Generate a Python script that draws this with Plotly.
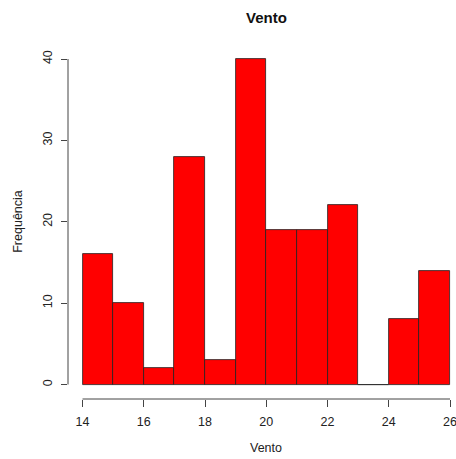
import plotly.graph_objects as go

bin_edges = [14, 15, 16, 17, 18, 19, 20, 21, 22, 23, 24, 25, 26]
counts = [16, 10, 2, 28, 3, 40, 19, 19, 22, 0, 8, 14]
x_ticks = [14, 16, 18, 20, 22, 24, 26]
y_ticks = [0, 10, 20, 30, 40]

centers = [(a + b) / 2 for a, b in zip(bin_edges[:-1], bin_edges[1:])]
widths = [b - a for a, b in zip(bin_edges[:-1], bin_edges[1:])]

fig = go.Figure()
fig.add_trace(go.Bar(
    x=centers, y=counts, width=widths,
    marker=dict(color="#ff0000", line=dict(color="#222222", width=0.8)),
    hoverinfo="x+y",
))

font = dict(family="Liberation Sans, Arial, sans-serif", size=12.5, color="#222222")

fig.update_layout(
    width=456, height=459,
    margin=dict(l=68, r=0, t=46, b=60),
    paper_bgcolor="white", plot_bgcolor="white",
    showlegend=False,
    bargap=0,
    font=font,
    xaxis=dict(range=[13.526, 26.196], showgrid=False, zeroline=False,
               showline=False, tickmode="array", tickvals=x_ticks,
               ticktext=[str(v) for v in x_ticks],
               ticks="outside", ticklen=7, tickcolor="#444444",
               ticklabelstandoff=4, ticklabeloverflow="allow", tickfont=font),
    yaxis=dict(range=[-1.78, 41.6], showgrid=False, zeroline=False,
               showline=False, tickmode="array", tickvals=y_ticks,
               ticktext=[str(v) for v in y_ticks],
               ticks="outside", ticklen=6, tickcolor="#444444",
               tickangle=-90, ticklabelstandoff=4, tickfont=font),
)

# axis lines spanning only the tick range (R style)
fig.add_shape(type="line", xref="x", yref="paper", x0=x_ticks[0], x1=x_ticks[-1],
              y0=0, y1=0, line=dict(color="#444444", width=1))
fig.add_shape(type="line", xref="paper", yref="y", x0=0, x1=0,
              y0=y_ticks[0], y1=y_ticks[-1], line=dict(color="#444444", width=1))

mid = (x_ticks[0] + x_ticks[-1]) / 2
fig.add_annotation(text="<b>Vento</b>", xref="x", yref="paper", x=mid,
                   y=1, yshift=(46 - 17),
                   showarrow=False, font=dict(family=font["family"], size=15, color="#111111"),
                   yanchor="middle")
fig.add_annotation(text="Vento", xref="x", yref="paper", x=mid, y=0,
                   yshift=-(448 - 399), showarrow=False, font=font, yanchor="middle")
fig.add_annotation(text="Frequência", xref="paper", yref="y", x=0, y=20,
                   xshift=-(68 - 18), textangle=-90, showarrow=False, font=font,
                   xanchor="center")

fig.write_html("out.html")
